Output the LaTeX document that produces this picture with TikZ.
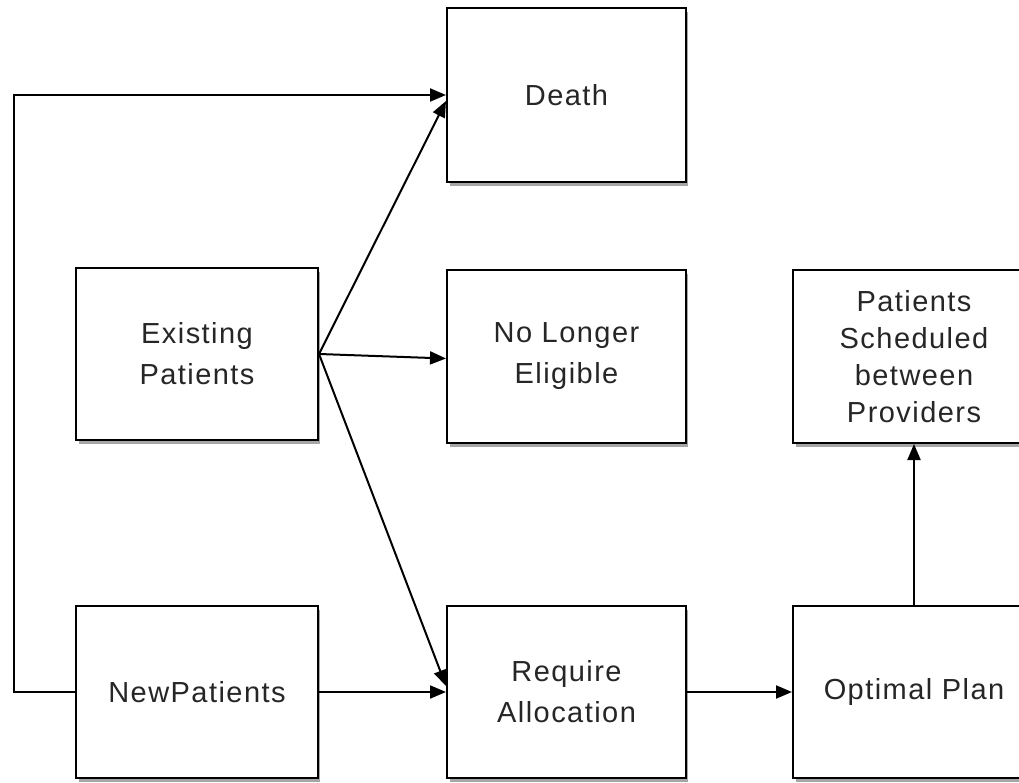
\documentclass[tikz,border=0pt]{standalone}
\usepackage{fontspec}
\setmainfont{Liberation Sans}[LetterSpace=5]
\usetikzlibrary{arrows.meta}
\begin{document}
\begin{tikzpicture}[x=1pt,y=-1pt,
  box/.style={draw=black, line width=2pt, fill=white, align=center,
    inner sep=2pt, text=black!85, font=\fontsize{29}{41}\selectfont},
  tall/.style={font=\fontsize{29}{37}\selectfont},
  shade/.style={fill=black!35, draw=none},
  link/.style={line width=2pt, -{Triangle[length=16pt,width=13pt]}}]
\useasboundingbox (0,0) rectangle (1019,783);
% drop shadows under the boxes
\foreach \cx/\cy/\w/\h in {566.5/95/239/174, 197/354/242/172, 566.5/356.5/239/173,
  914/356.5/242/173, 197/692/242/172, 566.5/692/239/172, 914/692/242/172}
  \fill[shade] (\cx-\w/2+3,\cy-\h/2+4) rectangle (\cx+\w/2+2,\cy+\h/2+4);
% boxes
\node[box, minimum width=239pt, minimum height=174pt] (D) at (566.5,95) {Death};
\node[box, minimum width=242pt, minimum height=172pt] (E) at (197,354) {Existing\\Patients};
\node[box, minimum width=239pt, minimum height=173pt] (L) at (566.5,356.5) {No Longer\\Eligible};
\node[box, tall, minimum width=242pt, minimum height=173pt] (S) at (914,356.5) {Patients\\Scheduled\\between\\Providers};
\node[box, minimum width=242pt, minimum height=172pt] (N) at (197,692) {NewPatients};
\node[box, minimum width=239pt, minimum height=172pt] (R) at (566.5,692) {Require\\Allocation};
\node[box, minimum width=242pt, minimum height=172pt] (O) at (914,692) {Optimal Plan};
% connectors
\draw[link] (N.west) -- ++(-61,0) |- (D.west);
\draw[link] (E.east) -- ([yshift=-6pt]D.west);
\draw[link] (E.east) -- ([yshift=-2pt]L.west);
\draw[link] (E.east) -- ([yshift=6pt]R.west);
\draw[link] (N.east) -- (R.west);
\draw[link] (R.east) -- (O.west);
\draw[link] (O.north) -- (S.south);
\end{tikzpicture}
\end{document}
